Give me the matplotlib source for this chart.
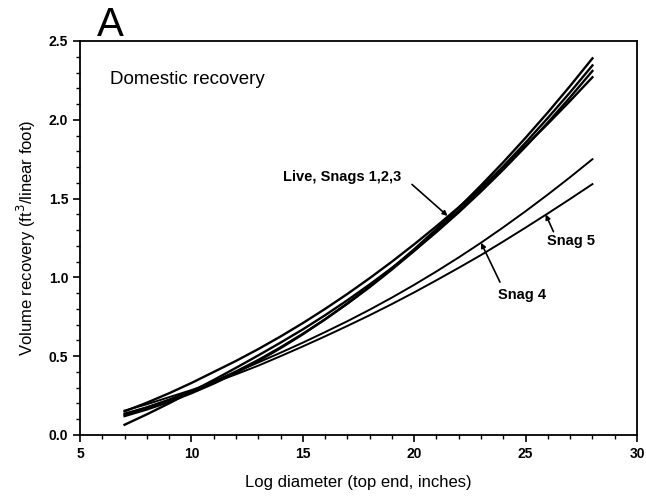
import matplotlib
matplotlib.use('Agg')
import matplotlib.pyplot as plt
from matplotlib.ticker import MultipleLocator

plt.rcParams['font.family'] = ['Liberation Sans', 'DejaVu Sans']

# log diameter (top end, inches)
diam = [7, 8, 9, 10, 11, 12, 13, 14, 15, 16, 17, 18, 19, 20, 21, 22, 23, 24, 25, 26, 27, 28]

# live + snags 1,2,3 (four curves)
live = [0.150, 0.205, 0.265, 0.330, 0.400, 0.470, 0.545, 0.625, 0.710, 0.800, 0.895,
        0.995, 1.100, 1.210, 1.325, 1.445, 1.570, 1.700, 1.835, 1.975, 2.120, 2.270]
snag1 = [0.120, 0.162, 0.210, 0.265, 0.326, 0.394, 0.469, 0.551, 0.639, 0.734, 0.835,
         0.943, 1.058, 1.179, 1.307, 1.442, 1.584, 1.731, 1.886, 2.047, 2.215, 2.390]
snag2 = [0.135, 0.175, 0.222, 0.276, 0.336, 0.403, 0.476, 0.556, 0.642, 0.734, 0.833,
         0.938, 1.050, 1.168, 1.292, 1.423, 1.561, 1.705, 1.855, 2.012, 2.175, 2.345]
snag3 = [0.065, 0.131, 0.201, 0.275, 0.349, 0.426, 0.505, 0.586, 0.670, 0.760, 0.855,
         0.955, 1.060, 1.170, 1.288, 1.413, 1.545, 1.684, 1.830, 1.983, 2.143, 2.310]
snag4 = [0.130, 0.175, 0.225, 0.280, 0.340, 0.400, 0.460, 0.522, 0.586, 0.653, 0.722,
         0.795, 0.872, 0.953, 1.038, 1.127, 1.220, 1.318, 1.420, 1.526, 1.636, 1.750]
snag5 = [0.155, 0.195, 0.240, 0.285, 0.333, 0.385, 0.440, 0.500, 0.562, 0.626, 0.692,
         0.760, 0.831, 0.905, 0.982, 1.061, 1.142, 1.228, 1.316, 1.406, 1.498, 1.592]

fig = plt.figure(figsize=(6.46, 4.99), dpi=100)
ax = fig.add_axes([80/646, 1-435/499, 557/646, 394/499])

for s in (live, snag1, snag2, snag3):
    ax.plot(diam, s, '-k', lw=1.7)
ax.plot(diam, snag4, '-k', lw=1.4)
ax.plot(diam, snag5, '-k', lw=1.4)

ax.set_xlim(5, 30)
ax.set_ylim(0, 2.5)
ax.xaxis.set_major_locator(MultipleLocator(5))
ax.xaxis.set_minor_locator(MultipleLocator(1))
ax.yaxis.set_major_locator(MultipleLocator(0.5))
ax.yaxis.set_minor_locator(MultipleLocator(0.1))
ax.tick_params(which='major', direction='out', length=5, width=1.2)
ax.tick_params(which='minor', direction='out', length=3, width=1)
ax.tick_params(labelsize=10)
for lab in ax.get_xticklabels() + ax.get_yticklabels():
    lab.set_fontweight('bold')
ax.yaxis.set_major_formatter(plt.FormatStrFormatter('%.1f'))
for sp in ax.spines.values():
    sp.set_linewidth(1.3)

ax.set_xlabel('Log diameter (top end, inches)', fontsize=12, labelpad=10)
ax.set_ylabel('Volume recovery (ft$^3$/linear foot)', fontsize=12, labelpad=8)

ax.text(6.35, 2.23, 'Domestic recovery', fontsize=13.5, va='baseline')
fig.text(97/646, 1-36/499, 'A', fontsize=29, va='baseline')

arr = dict(arrowstyle='-|>', color='k', lw=1.2, mutation_scale=7, shrinkA=0, shrinkB=0)
ax.text(14.1, 1.64, 'Live, Snags 1,2,3', fontsize=10.5, fontweight='bold', va='center')
ax.annotate('', xy=(21.5, 1.39), xytext=(19.9, 1.59), arrowprops=arr)
ax.text(23.75, 0.89, 'Snag 4', fontsize=10.5, fontweight='bold', va='center')
ax.annotate('', xy=(23.0, 1.22), xytext=(23.85, 0.97), arrowprops=arr)
ax.text(25.95, 1.23, 'Snag 5', fontsize=10.5, fontweight='bold', va='center')
ax.annotate('', xy=(25.9, 1.40), xytext=(26.25, 1.29), arrowprops=arr)

plt.savefig('out.png', dpi=100)
